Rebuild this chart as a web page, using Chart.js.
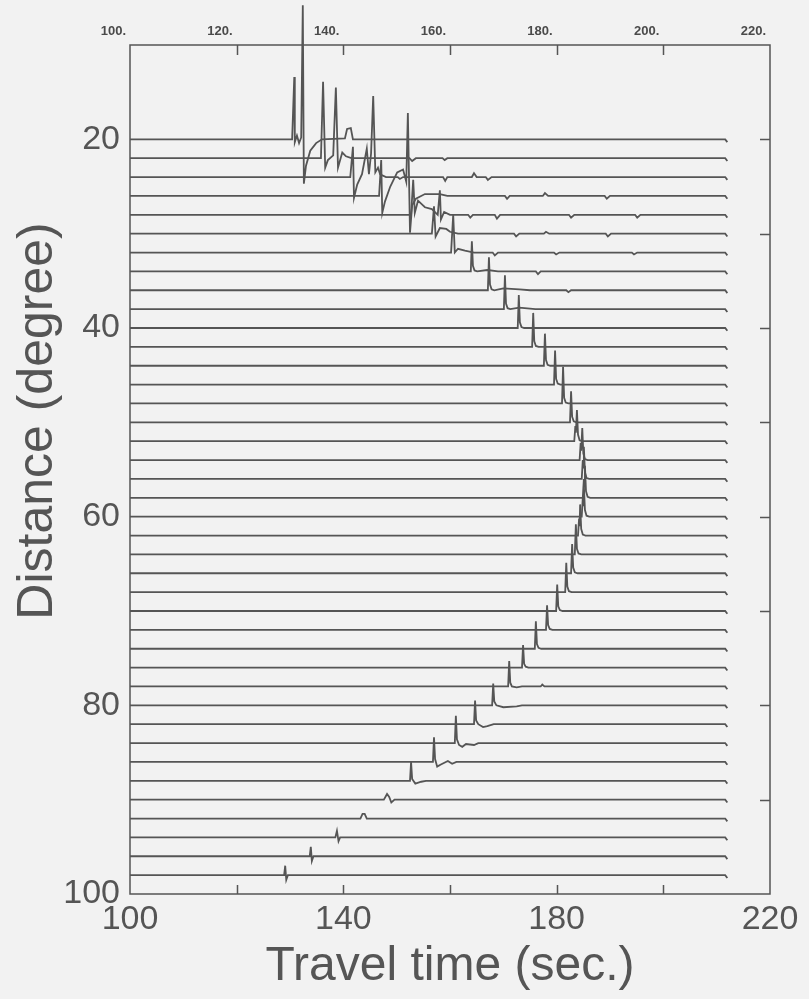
<!DOCTYPE html>
<html>
<head>
<meta charset="utf-8">
<script src="https://cdn.jsdelivr.net/npm/chart.js@4.4.1/dist/chart.umd.min.js"></script>
<style>
  html, body { margin: 0; padding: 0; background: #f2f2f2; }
  canvas { display: block; }
</style>
</head>
<body>
<canvas id="chart" width="809" height="999"></canvas>
<script>
// Epicentral distance of each trace (degree)
const distances = [20, 22, 24, 26, 28, 30, 32, 34, 36, 38, 40, 42, 44, 46, 48, 50, 52, 54, 56, 58,
  60, 62, 64, 66, 68, 70, 72, 74, 76, 78, 80, 82, 84, 86, 88, 90, 92, 94, 96, 98];

// Waveform vertices per trace: [travel time (s), amplitude (degree units, up positive)]
const waveforms = [
  [[100,0],[130.4,0],[130.8,6.6],[130.9,-0.3],[131.3,0.4],[131.7,-0.4],[132.1,0.2],[132.4,14.2],[132.6,-4.7],[133.0,-2.8],[133.8,-1.2],[134.9,-0.4],[136.0,0],[140.3,0.1],[140.7,1.1],[141.4,1.2],[141.8,0],[211.6,0],[212,-0.3]],
  [[100,0],[135.8,0],[136.2,8.1],[136.6,-1.0],[137.1,-0.2],[138.1,0.3],[138.6,7.5],[139.0,-1.0],[139.8,0.6],[140.5,0.2],[141.5,0],[152.4,0],[152.9,-0.3],[153.6,0],[158.6,0],[159.0,-0.2],[159.5,0],[211.6,0],[212,-0.3]],
  [[100,0],[141.3,0],[141.8,3.2],[142.0,-2.2],[142.6,-0.8],[143.5,0.3],[144.4,3.0],[144.8,0.3],[145.2,2.5],[145.6,8.6],[146.0,0.5],[146.5,1.0],[146.9,0.3],[148.0,0],[150.2,0],[150.6,-0.2],[151.2,0],[158.7,0],[159.1,-0.4],[159.5,0],[164.1,0],[164.5,0.4],[165.0,0],[166.7,0],[167.1,-0.3],[167.8,0],[211.6,0],[212,-0.3]],
  [[100,0],[146.7,0],[147.1,3.8],[147.3,-1.8],[147.8,-0.6],[148.8,1.0],[150.1,2.5],[151.2,2.8],[151.8,1.5],[152.1,8.8],[152.5,-3.9],[152.9,-1.0],[153.6,-0.3],[155.3,0.2],[158.1,0.2],[159.5,0],[170.3,0],[170.7,-0.3],[171.2,0],[177.4,0],[177.8,0.3],[178.4,0],[189.0,0],[189.4,-0.3],[190,0],[211.6,0],[212,-0.3]],
  [[100,0],[152.7,0],[153.1,3.7],[153.4,0.2],[154.0,1.5],[155.3,0.8],[156.6,0.6],[157.7,0],[158.1,2.6],[158.3,-0.5],[158.9,0.3],[160.0,0],[163.4,0],[163.8,-0.3],[164.3,0],[168.4,0],[168.8,-0.4],[169.4,0],[182.3,0],[182.7,-0.3],[183.3,0],[194.7,0],[195.1,-0.3],[195.7,0],[211.6,0],[212,-0.3]],
  [[100,0],[156.6,0],[157.0,2.9],[157.3,-0.3],[158.1,0.6],[159.3,0.5],[160.0,0.2],[161.5,0],[172.0,0],[172.4,-0.3],[173.0,0],[177.6,0],[178.0,0.2],[178.6,0],[189.2,0],[189.6,-0.3],[190.2,0],[211.6,0],[212,-0.3]],
  [[100,0],[160.2,0],[160.6,4.0],[160.9,0],[161.5,0.4],[162.8,0.2],[164.5,0],[168.0,0],[168.4,-0.3],[169,0],[179.5,0],[179.9,-0.2],[180.5,0],[194.1,0],[194.5,-0.2],[195.1,0],[211.6,0],[212,-0.3]],
  [[100,0],[163.9,0],[164.1,3.2],[164.3,0.6],[164.6,0.1],[165.1,0],[167,0.15],[169,0],[176.1,0],[176.5,-0.3],[177,0],[211.6,0],[212,-0.3]],
  [[100,0],[167.1,0],[167.3,3.5],[167.5,0.6],[167.8,0.1],[168.3,0],[170,0.2],[173,0.1],[175,0],[181.8,0],[182.2,-0.2],[182.7,0],[211.6,0],[212,-0.3]],
  [[100,0],[170.1,0],[170.3,3.6],[170.5,0.6],[170.8,0.1],[171.3,0],[173,0.15],[176,0],[211.6,0],[212,-0.3]],
  [[100,0],[172.7,0],[172.9,3.5],[173.1,0.6],[173.4,0.1],[173.9,0],[211.6,0],[212,-0.3]],
  [[100,0],[175.4,0],[175.6,3.6],[175.8,0.6],[176.1,0.1],[176.6,0],[211.6,0],[212,-0.3]],
  [[100,0],[177.6,0],[177.8,3.4],[178.0,0.6],[178.3,0.1],[178.8,0],[211.6,0],[212,-0.3]],
  [[100,0],[179.5,0],[179.7,3.6],[179.9,0.6],[180.2,0.1],[180.7,0],[211.6,0],[212,-0.3]],
  [[100,0],[181.0,0],[181.2,3.9],[181.4,0.6],[181.7,0.1],[182.2,0],[211.6,0],[212,-0.3]],
  [[100,0],[182.5,0],[182.7,3.3],[182.9,0.6],[183.2,0.1],[183.7,0],[211.6,0],[212,-0.3]],
  [[100,0],[183.3,0],[183.5,1.6],[183.6,0.9],[183.8,3.3],[184.0,0.7],[184.3,0.1],[184.8,0],[211.6,0],[212,-0.3]],
  [[100,0],[184.3,0],[184.5,1.8],[184.6,1.0],[184.8,3.4],[185.0,0.7],[185.3,0.1],[185.8,0],[211.6,0],[212,-0.3]],
  [[100,0],[184.7,0],[184.9,2.0],[185.0,1.2],[185.1,3.4],[185.3,0.7],[185.6,0.1],[186.1,0],[211.6,0],[212,-0.3]],
  [[100,0],[184.9,0],[185.1,2.0],[185.2,1.2],[185.3,3.4],[185.5,0.7],[185.8,0.1],[186.3,0],[211.6,0],[212,-0.3]],
  [[100,0],[184.7,0],[184.9,2.0],[185.0,1.2],[185.1,3.3],[185.3,0.7],[185.6,0.1],[186.1,0],[211.6,0],[212,-0.3]],
  [[100,0],[184.0,0],[184.2,1.8],[184.3,1.0],[184.4,3.3],[184.6,0.7],[184.9,0.1],[185.4,0],[211.6,0],[212,-0.3]],
  [[100,0],[183.4,0],[183.6,3.2],[183.8,0.6],[184.1,0.1],[184.6,0],[211.6,0],[212,-0.3]],
  [[100,0],[182.7,0],[182.9,3.1],[183.1,0.6],[183.4,0.1],[183.9,0],[211.6,0],[212,-0.3]],
  [[100,0],[181.6,0],[181.8,3.1],[182.0,0.6],[182.3,0.1],[182.8,0],[211.6,0],[212,-0.3]],
  [[100,0],[179.9,0],[180.1,2.8],[180.3,0.5],[180.6,0.1],[181.1,0],[211.6,0],[212,-0.3]],
  [[100,0],[178.0,0],[178.2,2.6],[178.4,0.5],[178.7,0.1],[179.2,0],[211.6,0],[212,-0.3]],
  [[100,0],[175.9,0],[176.1,2.9],[176.3,0.5],[176.6,0.1],[177.1,0],[211.6,0],[212,-0.3]],
  [[100,0],[173.5,0],[173.7,2.4],[173.9,0.4],[174.2,0.1],[174.7,0],[211.6,0],[212,-0.3]],
  [[100,0],[170.9,0],[171.1,2.7],[171.3,0.4],[171.6,0],[172.5,-0.1],[173.5,0],[177.0,0],[177.3,0.2],[177.7,0],[211.6,0],[212,-0.3]],
  [[100,0],[167.9,0],[168.1,2.3],[168.3,0.4],[168.7,0],[170.0,-0.2],[172.5,-0.1],[173.5,0],[211.6,0],[212,-0.3]],
  [[100,0],[164.5,0],[164.7,2.5],[164.9,0.4],[165.3,0],[166.2,-0.3],[167.0,-0.2],[167.6,-0.1],[168.2,0],[211.6,0],[212,-0.3]],
  [[100,0],[160.9,0],[161.1,2.9],[161.3,0.4],[161.7,-0.2],[162.3,-0.4],[163.0,-0.1],[164.5,-0.2],[165.3,0],[211.6,0],[212,-0.3]],
  [[100,0],[156.8,0],[157.0,2.6],[157.2,0.3],[157.6,-0.5],[158.2,-0.3],[159.6,0.1],[160.4,-0.2],[161.2,0],[211.6,0],[212,-0.3]],
  [[100,0],[152.5,0],[152.7,2.0],[152.9,0.2],[153.5,-0.3],[154.6,-0.1],[155.5,0],[211.6,0],[212,-0.3]],
  [[100,0],[147.6,0],[148.2,0.6],[148.6,0.3],[149.0,-0.3],[149.6,0],[211.6,0],[212,-0.3]],
  [[100,0],[143.2,0],[143.6,0.5],[144.0,0.5],[144.4,0],[211.6,0],[212,-0.3]],
  [[100,0],[138.5,0],[138.8,0.7],[139.1,-0.4],[139.4,0],[211.6,0],[212,-0.3]],
  [[100,0],[133.7,0],[133.9,1.0],[134.1,-0.5],[134.4,0],[211.6,0],[212,-0.3]],
  [[100,0],[128.9,0],[129.1,1.0],[129.3,-0.5],[129.6,0],[211.6,0],[212,-0.3]],
];

// Axis ticks
const bottomTickLabels = [100, 140, 180, 220];
const topTickLabels = [100, 120, 140, 160, 180, 200, 220];
const yTickLabels = [20, 40, 60, 80, 100];
const innerTicksX = [120, 140, 160, 180, 200];
const innerTicksRight = [20, 30, 40, 50, 60, 70, 80, 90];

const INK = '#555555';
const FONT = '"Liberation Sans", Helvetica, Arial, sans-serif';
Chart.defaults.font.family = FONT;
Chart.defaults.color = INK;

const datasets = distances.map((d, i) => ({
  data: waveforms[i].map(([t, a]) => ({ x: t, y: d - a })),
  borderColor: INK,
  borderWidth: 1.8,
  pointRadius: 0,
  tension: 0,
  fill: false,
  clip: false,
}));

// Box, inward tick marks and the rotated distance title
const framePlugin = {
  id: 'frame',
  afterDraw(chart) {
    const { ctx, chartArea: a, scales } = chart;
    const x = scales.x, y = scales.y;
    ctx.save();
    ctx.strokeStyle = INK;
    ctx.lineWidth = 1.5;
    ctx.strokeRect(a.left, a.top, a.right - a.left, a.bottom - a.top);
    ctx.beginPath();
    innerTicksX.forEach(v => {
      const px = Math.round(x.getPixelForValue(v)) + 0.5;
      ctx.moveTo(px, a.bottom); ctx.lineTo(px, a.bottom - 9);
      ctx.moveTo(px, a.top); ctx.lineTo(px, a.top + 10);
    });
    innerTicksRight.forEach(v => {
      const py = Math.round(y.getPixelForValue(v)) + 0.5;
      ctx.moveTo(a.right, py); ctx.lineTo(a.right - 10, py);
    });
    ctx.stroke();

    ctx.translate(38, 421);
    ctx.rotate(-Math.PI / 2);
    ctx.fillStyle = INK;
    ctx.font = '50px ' + FONT;
    ctx.textAlign = 'center';
    ctx.textBaseline = 'middle';
    ctx.fillText('Distance (degree)', 0, 0);
    ctx.restore();
  }
};

new Chart(document.getElementById('chart'), {
  type: 'line',
  data: { datasets },
  options: {
    responsive: false,
    animation: false,
    events: [],
    layout: { padding: { left: 0, right: 39, top: 0, bottom: 0 } },
    plugins: { legend: { display: false }, tooltip: { enabled: false } },
    scales: {
      x: {
        type: 'linear',
        position: 'bottom',
        min: 100,
        max: 220,
        afterBuildTicks: s => { s.ticks = bottomTickLabels.map(v => ({ value: v })); },
        afterFit: s => { s.height = 105; },
        grid: { display: false, drawTicks: false },
        border: { display: false },
        ticks: { font: { size: 34 }, color: INK, padding: 5, maxRotation: 0, autoSkip: false },
        title: { display: true, text: 'Travel time (sec.)', font: { size: 48 }, color: INK, padding: { top: 0, bottom: 3 } },
      },
      x2: {
        type: 'linear',
        axis: 'x',
        position: 'top',
        min: 100,
        max: 220,
        afterBuildTicks: s => { s.ticks = topTickLabels.map(v => ({ value: v })); },
        afterFit: s => { s.height = 45; },
        grid: { display: false, drawTicks: false },
        border: { display: false },
        ticks: { font: { size: 13, weight: 'bold' }, color: '#4a4a4a', padding: 6, align: 'end', labelOffset: -4, maxRotation: 0, autoSkip: false, callback: v => v + '.' },
      },
      y: {
        type: 'linear',
        position: 'left',
        reverse: true,
        min: 10,
        max: 100,
        afterBuildTicks: s => { s.ticks = yTickLabels.map(v => ({ value: v })); },
        afterFit: s => { s.width = 130; },
        grid: { display: false, drawTicks: false },
        border: { display: false },
        ticks: { font: { size: 34 }, color: INK, padding: 10, autoSkip: false },
      },
    },
  },
  plugins: [framePlugin],
});
</script>
</body>
</html>
